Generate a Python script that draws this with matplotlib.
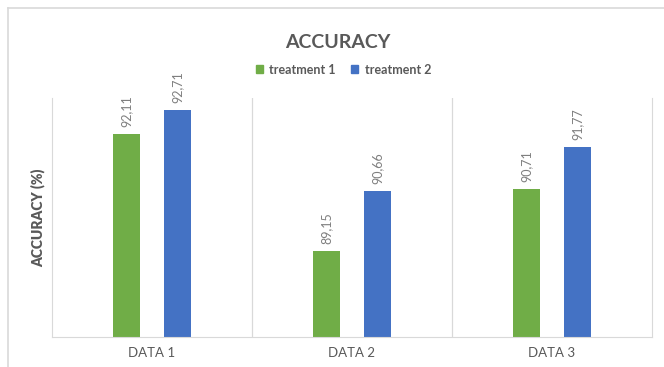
import matplotlib.pyplot as plt
import numpy as np
from matplotlib.lines import Line2D
from matplotlib.patches import Patch

categories = ['DATA 1', 'DATA 2', 'DATA 3']
treatment1 = [92.11, 89.15, 90.71]
treatment2 = [92.71, 90.66, 91.77]
series_names = ['treatment 1', 'treatment 2']

green = '#70AD47'
blue = '#4472C4'
grey = '#595959'
light = '#D9D9D9'

plt.rcParams['font.family'] = ['Lato', 'DejaVu Sans']

fig = plt.figure(figsize=(6.64, 3.67), dpi=100)
ax = fig.add_axes([0.0783, 0.0817, 0.9036, 0.651])

x = np.arange(len(categories))
w = 0.135
off = 0.128
b1 = ax.bar(x - off, treatment1, w, color=green)
b2 = ax.bar(x + off, treatment2, w, color=blue)

for bars, vals in ((b1, treatment1), (b2, treatment2)):
  for b, v in zip(bars, vals):
    ax.annotate(f'{v:.2f}'.replace('.', ','), (b.get_x() + b.get_width() / 2, v),
                xytext=(0, 5), textcoords='offset points', rotation=90,
                ha='center', va='bottom', fontsize=9, color='#7F7F7F')

ax.set_ylim(87, 93)
ax.set_xlim(-0.5, 2.5)
ax.set_yticks([])
ax.set_xticks(x)
ax.set_xticklabels(categories, fontsize=9.5, color=grey)
ax.tick_params(axis='x', length=0, pad=7)
for s in ('left', 'right', 'bottom'):
  ax.spines[s].set_color(light)
ax.spines['top'].set_visible(False)
for sep in (0.5, 1.5):
  ax.axvline(sep, color=light, lw=0.9)

ax.set_ylabel('ACCURACY (%)', fontsize=10, fontweight='heavy', color=grey, labelpad=5)

fig.text(0.509, 0.885, 'ACCURACY', ha='center', va='center', fontsize=14,
         fontweight='bold', color=grey)

handles = [Patch(color=green), Patch(color=blue)]
fig.legend(handles, series_names, loc='center', bbox_to_anchor=(0.517, 0.81), ncol=2,
           frameon=False, handlelength=0.6, handleheight=0.6, handletextpad=0.5,
           columnspacing=1.2, prop={'size': 9, 'weight': 'bold'}, labelcolor=grey)

# thin outer frame on top and left
fig.add_artist(Line2D([0.012, 1.0], [0.978, 0.978], color=light, lw=1.2))
fig.add_artist(Line2D([0.012, 0.012], [0.0, 0.978], color=light, lw=1.2))

fig.savefig('out.png', dpi=100)
